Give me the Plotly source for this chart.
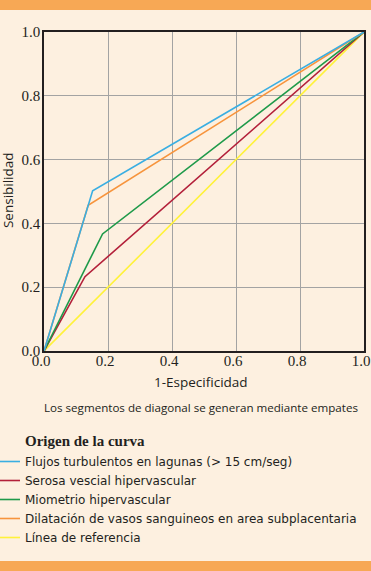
import plotly.graph_objects as go

names = [
    "Flujos turbulentos en lagunas (> 15 cm/seg)",
    "Serosa vescial hipervascular",
    "Miometrio hipervascular",
    "Dilatación de vasos sanguineos en area subplacentaria",
    "Línea de referencia",
]
colors = ["#3aaee2", "#b3203a", "#1f9a4a", "#f7943c", "#fff23a"]
fpr = [
    [0.0, 0.152, 1.0],
    [0.0, 0.128, 1.0],
    [0.0, 0.183, 1.0],
    [0.0, 0.138, 1.0],
    [0.0, 1.0],
]
tpr = [
    [0.0, 0.502, 1.0],
    [0.0, 0.233, 1.0],
    [0.0, 0.367, 1.0],
    [0.0, 0.457, 1.0],
    [0.0, 1.0],
]
ticks = [0.0, 0.2, 0.4, 0.6, 0.8, 1.0]
tick_text = ["0.0", "0.2", "0.4", "0.6", "0.8", "1.0"]

bg = "#fdf0e0"
band = "#f7a855"
ink = "#231f20"
sans = "Open Sans, Noto Sans, sans-serif"
serif = "Liberation Serif, serif"

fig = go.Figure()
order = [4, 1, 2, 3, 0]
for i in order:
    fig.add_trace(go.Scatter(
        x=fpr[i], y=tpr[i], mode="lines", name=names[i],
        line=dict(color=colors[i], width=1.6), legendrank=i + 1,
    ))

axis_common = dict(
    range=[0, 1], tickvals=ticks, ticktext=tick_text,
    showgrid=True, gridcolor="#a3a3a3", gridwidth=1,
    zeroline=False, showline=True, linecolor=ink, linewidth=1.5, mirror=True,
    tickfont=dict(family=serif, size=15, color=ink),
    ticks="", ticklen=0, automargin=False, ticklabeloverflow="allow",
)

fig.update_layout(
    width=371, height=571,
    margin=dict(l=44, r=7, t=32, b=220, autoexpand=False),
    paper_bgcolor=bg, plot_bgcolor=bg,
    showlegend=True,
    legend=dict(
        x=(-15 - 44) / 320, y=(351 - 447) / 319, xanchor="left", yanchor="top",
        bgcolor="rgba(0,0,0,0)",
        font=dict(family="DejaVu Sans, sans-serif", size=12, color=ink),
        tracegroupgap=0, itemwidth=30,
    ),
    xaxis=dict(**axis_common, ticklabelstandoff=-5, ticklabelshift=-3),
    yaxis=dict(**axis_common, ticklabelstandoff=-1),
    shapes=[
        dict(type="rect", xref="paper", yref="paper", x0=-0.2, x1=1.1,
             y0=1.069, y1=1.12, fillcolor=band, line=dict(width=0), layer="below"),
        dict(type="rect", xref="paper", yref="paper", x0=-0.2, x1=1.1,
             y0=-0.72, y1=-0.658, fillcolor=band, line=dict(width=0), layer="below"),
    ],
    annotations=[
        dict(text="1-Especificidad", xref="paper", yref="paper", x=0.49, y=-0.097,
             xanchor="center", yanchor="middle", showarrow=False,
             font=dict(family=sans, size=13.5, color=ink)),
        dict(text="Sensibilidad", xref="paper", yref="paper", x=-0.112, y=0.505,
             xanchor="center", yanchor="middle", showarrow=False, textangle=-90,
             font=dict(family=sans, size=13.5, color=ink)),
        dict(text="Los segmentos de diagonal se generan mediante empates",
             xref="paper", yref="paper", x=(42 - 44) / 320, y=-0.178, xanchor="left",
             yanchor="middle", showarrow=False,
             font=dict(family=sans, size=11.6, color=ink)),
        dict(text="<b>Origen de la curva</b>", xref="paper", yref="paper",
             x=(23 - 44) / 320, y=(351 - 441) / 319, xanchor="left", yanchor="middle",
             showarrow=False, font=dict(family=serif, size=15, color=ink)),
    ],
)

fig.write_html("out.html", post_script="document.body.style.margin='0';",
               config={"displayModeBar": False})
